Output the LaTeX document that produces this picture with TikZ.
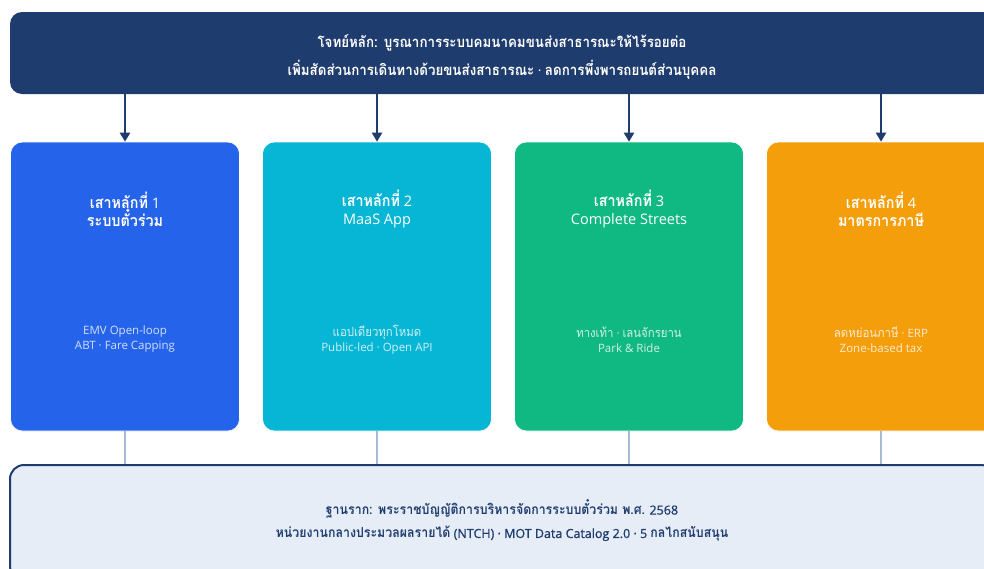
\documentclass[tikz,border=0pt]{standalone}
\usepackage{fontspec}
\setmainfont{Open Sans}
\newfontfamily\thai[Script=Thai,Scale=1.1,FakeStretch=0.9]{Loma}
\newfontfamily\latsemi[FakeBold=1]{Open Sans}
\newcommand{\THB}[1]{{\thai\bfseries #1}}
\newcommand{\THR}[1]{{\thai #1}}
\usetikzlibrary{arrows.meta}
\definecolor{navy}{HTML}{1F3C6E}
\definecolor{pblue}{HTML}{2563EB}
\definecolor{pcyan}{HTML}{06B6D4}
\definecolor{pgreen}{HTML}{10B981}
\definecolor{porange}{HTML}{F59E0B}
\definecolor{fndfill}{HTML}{E6EDF7}
\definecolor{linkgray}{HTML}{A7BAD3}
\tikzset{
  hdrbox/.style={fill=navy, rounded corners=12pt, inner sep=0pt},
  pillar/.style={rounded corners=12pt, inner sep=0pt, minimum width=229pt, minimum height=289pt, draw=white, line width=0.6pt},
  fndbox/.style={fill=fndfill, draw=navy, line width=2pt, rounded corners=14pt, inner sep=0pt},
  hdrtxt/.style={text=white, font=\fontsize{13.5}{16}\selectfont, align=center},
  ptitle/.style={text=white, font=\fontsize{14.5}{18}\selectfont, align=center},
  psub/.style={text=white, text opacity=0.8, font=\fontsize{11.5}{15}\selectfont, align=center},
  fndtxt/.style={text=navy, font=\latsemi\fontsize{12.5}{16}\selectfont, align=center},
  downarrow/.style={draw=navy, line width=2.2pt, -{Triangle[length=9pt,width=10pt]}},
  linkline/.style={draw=linkgray, line width=2pt}
}
\begin{document}
\begin{tikzpicture}[x=1pt,y=-1pt]
\clip (0,0) rectangle (984,568);
\fill[white] (0,0) rectangle (984,568);
% header
\node[hdrbox, minimum width=985pt, minimum height=82pt] (hdr) at (502.5,53) {};
\node[hdrtxt] (hl1) at (502,43) {\THB{โจทย์หลัก: บูรณาการระบบคมนาคมขนส่งสาธารณะให้ไร้รอยต่อ}};
\node[hdrtxt] (hl2) at (502,70) {\THB{เพิ่มสัดส่วนการเดินทางด้วยขนส่งสาธารณะ} · \THB{ลดการพึ่งพารถยนต์ส่วนบุคคล}};
% pillars
\node[pillar, fill=pblue] (p1) at (125,286.5) {};
\node[pillar, fill=pcyan] (p2) at (377,286.5) {};
\node[pillar, fill=pgreen] (p3) at (629,286.5) {};
\node[pillar, fill=porange] (p4) at (881,286.5) {};
% foundation
\node[fndbox, minimum width=985pt, minimum height=115pt] (fnd) at (502.5,522.5) {};
% connectors
\foreach \i in {1,2,3,4} {
  \draw[downarrow] (p\i.north |- hdr.south) -- (p\i.north);
  \draw[linkline] (p\i.south) -- (p\i.south |- fnd.north);
}
% pillar texts
\node[ptitle] (t1) at (125,209) {\THB{เสาหลักที่} 1\\\THB{ระบบตั๋วร่วม}};
\node[ptitle] (t2) at (377,209) {\THB{เสาหลักที่} 2\\MaaS App};
\node[ptitle] (t3) at (629,209) {\THB{เสาหลักที่} 3\\Complete Streets};
\node[ptitle] (t4) at (881,209) {\THB{เสาหลักที่} 4\\\THB{มาตรการภาษี}};
\node[psub] (s1) at (125,339.5) {EMV Open-loop\\ABT · Fare Capping};
\node[psub] (s2) at (377,339.5) {\THR{แอปเดียวทุกโหมด}\\Public-led · Open API};
\node[psub] (s3) at (629,339.5) {\THR{ทางเท้า} · \THR{เลนจักรยาน}\\Park \& Ride};
\node[psub] (s4) at (881,339.5) {\THR{ลดหย่อนภาษี} · ERP\\Zone-based tax};
% foundation text
\node[fndtxt] (f1) at (502,509) {\THB{ฐานราก: พระราชบัญญัติการบริหารจัดการระบบตั๋วร่วม พ.ศ.} 2568};
\node[fndtxt] (f2) at (502,534) {\THB{หน่วยงานกลางประมวลผลรายได้} (NTCH) · MOT Data Catalog 2.0 · 5 \THB{กลไกสนับสนุน}};
\end{tikzpicture}
\end{document}
